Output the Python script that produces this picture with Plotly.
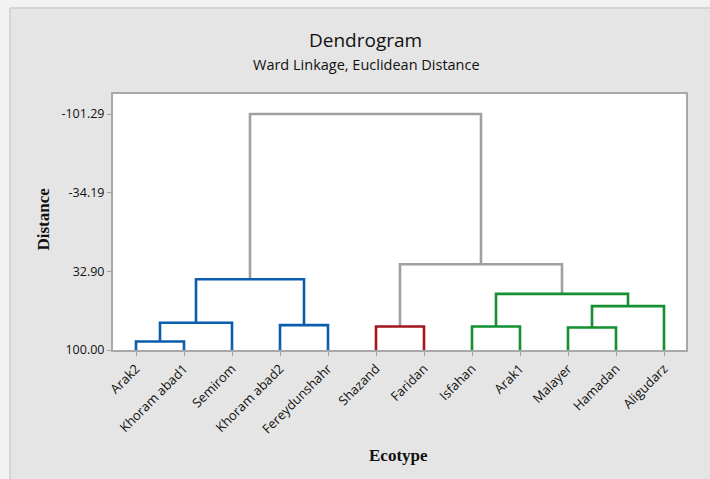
import plotly.graph_objects as go

# ---------------- data ----------------
leaves = ["Arak2", "Khoram abad1", "Semirom", "Khoram abad2", "Fereydunshahr",
          "Shazand", "Faridan", "Isfahan", "Arak1", "Malayer", "Hamadan", "Aligudarz"]
# linkage: cluster ids 0..11 are leaves, each merge creates id 12, 13, ...
merge_left = [0, 12, 3, 13, 5, 7, 9, 18, 17, 16, 15]
merge_right = [1, 2, 4, 14, 6, 8, 10, 11, 19, 20, 21]
merge_height = [92.7, 76.8, 78.8, 39.6, 80.0, 80.0, 80.8, 62.6, 52.1, 26.8, -101.29]
merge_group = ["blue", "blue", "blue", "blue", "red", "green", "green", "green", "green", "grey", "grey"]
leaf_level = 100.0
ytick_vals = [-101.29, -34.19, 32.90, 100.00]
ytick_text = ["-101.29", "-34.19", "32.90", "100.00"]

colors = {"blue": "#0b5cad", "red": "#a3161c", "green": "#13902f", "grey": "#a0a0a0"}

# ---------------- layout geometry ----------------
W, H = 710, 479
ML, MR, MT, MB = 113, 24, 94, 129
PW, PH = W - ML - MR, H - MT - MB


def px(x):
    return (x - ML) / PW


def py(y):
    return (H - MB - y) / PH


# ---------------- build dendrogram segments ----------------
pos = {i: float(i + 1) for i in range(len(leaves))}
hgt = {i: leaf_level for i in range(len(leaves))}
segs = {k: ([], []) for k in colors}
for k, (a, b, h, g) in enumerate(zip(merge_left, merge_right, merge_height, merge_group)):
    nid = len(leaves) + k
    xs, ys = segs[g]
    xs += [pos[a], pos[a], pos[b], pos[b], None]
    ys += [hgt[a], h, h, hgt[b], None]
    pos[nid] = (pos[a] + pos[b]) / 2
    hgt[nid] = h

fig = go.Figure()
for g in ["grey", "blue", "red", "green"]:
    xs, ys = segs[g]
    fig.add_trace(go.Scatter(x=xs, y=ys, mode="lines",
                             line=dict(color=colors[g], width=2.6),
                             hoverinfo="skip", showlegend=False))

sans = "Open Sans"
serif = "Liberation Serif"

fig.update_layout(
    width=W, height=H,
    margin=dict(l=ML, r=MR, t=MT, b=MB),
    paper_bgcolor="#e5e5e5",
    plot_bgcolor="#ffffff",
    showlegend=False,
    xaxis=dict(range=[1 - 23 / 48, 1 - 23 / 48 + PW / 48],
               tickvals=list(range(1, len(leaves) + 1)), ticktext=leaves,
               tickangle=-45, ticks="outside", ticklen=4, tickcolor="#a0a0a0",
               tickfont=dict(family=sans, size=13, color="#111111"),
               showgrid=False, zeroline=False,
               showline=True, linecolor="#a8a8a8", linewidth=2, mirror=True,
               fixedrange=True),
    yaxis=dict(range=[100, 100 - (H - MB - MT) * (201.29 / 236.0)],
               tickvals=ytick_vals, ticktext=ytick_text,
               ticks="outside", ticklen=4, tickcolor="#a0a0a0",
               tickfont=dict(family=sans, size=12.5, color="#111111"),
               showgrid=False, zeroline=False,
               showline=True, linecolor="#a8a8a8", linewidth=2, mirror=True,
               fixedrange=True),
    annotations=[
        dict(text="Dendrogram", x=px(365), y=py(40), xref="paper", yref="paper",
             xanchor="center", yanchor="middle", showarrow=False,
             font=dict(family=sans, size=19, color="#111111")),
        dict(text="Ward Linkage, Euclidean Distance", x=px(366), y=py(64), xref="paper", yref="paper",
             xanchor="center", yanchor="middle", showarrow=False,
             font=dict(family=sans, size=14.5, color="#111111")),
        dict(text="<b>Distance</b>", x=px(42.5), y=py(219), xref="paper", yref="paper",
             xanchor="center", yanchor="middle", showarrow=False, textangle=-90,
             font=dict(family=serif, size=17, color="#111111")),
        dict(text="<b>Ecotype</b>", x=px(398.5), y=py(455), xref="paper", yref="paper",
             xanchor="center", yanchor="middle", showarrow=False,
             font=dict(family=serif, size=17, color="#111111")),
    ],
    shapes=[
        dict(type="rect", xref="paper", yref="paper", x0=px(-5), x1=px(10), y0=py(H + 5), y1=py(-5),
             fillcolor="#f2f2f2", line=dict(width=0), layer="above"),
        dict(type="rect", xref="paper", yref="paper", x0=px(-5), x1=px(W + 5), y0=py(8), y1=py(-5),
             fillcolor="#f2f2f2", line=dict(width=0), layer="above"),
        dict(type="line", xref="paper", yref="paper", x0=px(10), x1=px(10), y0=py(H + 5), y1=py(8),
             line=dict(color="#cccccc", width=1.5), layer="above"),
        dict(type="line", xref="paper", yref="paper", x0=px(10), x1=px(W + 5), y0=py(8), y1=py(8),
             line=dict(color="#cccccc", width=1.5), layer="above"),
    ],
)

fig.write_html("out.html", config={"displayModeBar": False},
               post_script="document.body.style.margin='0';document.body.style.overflow='hidden';")
